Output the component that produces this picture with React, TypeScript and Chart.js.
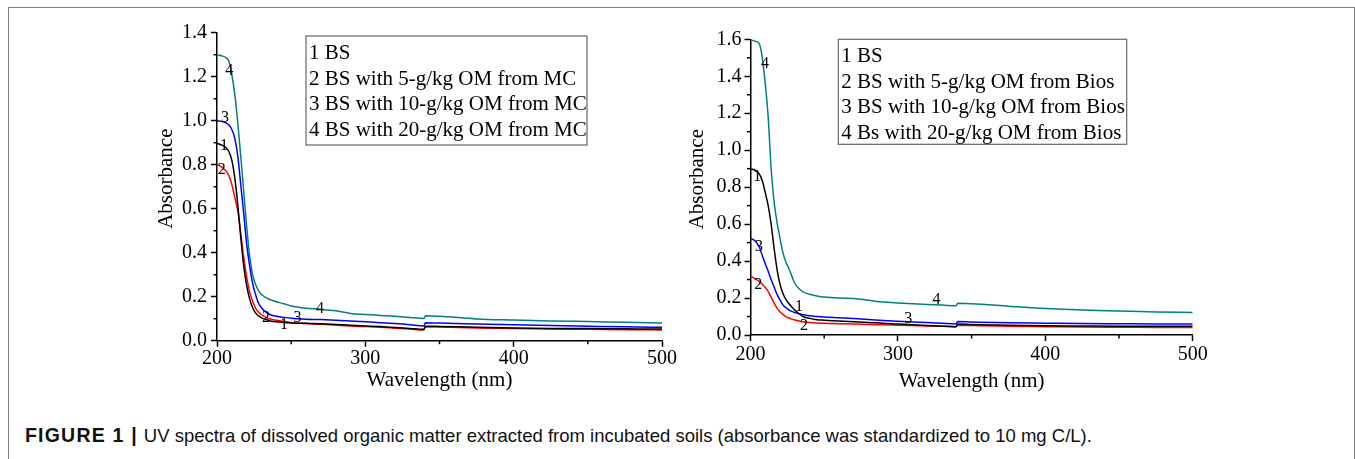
import React, { useEffect, useRef } from "react";
import { Chart, registerables } from "chart.js";

Chart.register(...registerables);

// ---------- data ----------
const wavelengths = [200, 203, 206, 208, 210, 212, 214, 216, 218, 220, 222, 224, 226, 228, 230, 233, 236, 240, 245, 250, 260, 270, 280, 290, 300, 310, 320, 330, 339.5, 340.5, 350, 375, 400, 425, 450, 475, 500];

// Left panel: OM from MC
const mcBS = [0.898, 0.89, 0.878, 0.86, 0.82, 0.74, 0.62, 0.47, 0.34, 0.25, 0.19, 0.15, 0.126, 0.113, 0.104, 0.096, 0.09, 0.086, 0.083, 0.081, 0.079, 0.077, 0.074, 0.07, 0.067, 0.064, 0.06, 0.056, 0.052, 0.066, 0.065, 0.061, 0.058, 0.056, 0.055, 0.054, 0.053];
const mcOM5 = [0.8, 0.79, 0.772, 0.75, 0.71, 0.65, 0.59, 0.49, 0.38, 0.29, 0.222, 0.18, 0.148, 0.13, 0.118, 0.106, 0.099, 0.093, 0.088, 0.083, 0.078, 0.075, 0.071, 0.067, 0.064, 0.061, 0.057, 0.053, 0.049, 0.063, 0.062, 0.058, 0.055, 0.053, 0.052, 0.05, 0.049];
const mcOM10 = [1.0, 0.997, 0.99, 0.98, 0.96, 0.92, 0.84, 0.71, 0.58, 0.44, 0.34, 0.26, 0.21, 0.17, 0.15, 0.13, 0.118, 0.111, 0.106, 0.102, 0.098, 0.096, 0.093, 0.09, 0.086, 0.082, 0.078, 0.073, 0.067, 0.082, 0.08, 0.076, 0.072, 0.069, 0.066, 0.063, 0.061];
const mcOM20 = [1.3, 1.295, 1.287, 1.27, 1.21, 1.12, 0.99, 0.84, 0.68, 0.52, 0.385, 0.3, 0.255, 0.228, 0.21, 0.196, 0.186, 0.177, 0.168, 0.158, 0.148, 0.143, 0.136, 0.124, 0.119, 0.115, 0.111, 0.106, 0.101, 0.113, 0.111, 0.099, 0.094, 0.09, 0.087, 0.084, 0.081];

// Right panel: OM from Bios
const biosBS = [0.897, 0.893, 0.87, 0.835, 0.77, 0.7, 0.6, 0.47, 0.355, 0.275, 0.225, 0.193, 0.17, 0.152, 0.135, 0.115, 0.099, 0.09, 0.083, 0.08, 0.076, 0.072, 0.068, 0.063, 0.06, 0.056, 0.052, 0.048, 0.045, 0.06, 0.057, 0.053, 0.05, 0.049, 0.048, 0.048, 0.047];
const biosOM5 = [0.319, 0.305, 0.29, 0.275, 0.258, 0.235, 0.205, 0.172, 0.145, 0.125, 0.112, 0.1, 0.092, 0.086, 0.081, 0.076, 0.072, 0.068, 0.065, 0.063, 0.061, 0.059, 0.057, 0.055, 0.053, 0.051, 0.049, 0.047, 0.045, 0.053, 0.051, 0.047, 0.045, 0.043, 0.042, 0.041, 0.04];
const biosOM10 = [0.523, 0.51, 0.475, 0.43, 0.385, 0.345, 0.3, 0.26, 0.22, 0.19, 0.163, 0.148, 0.136, 0.128, 0.122, 0.115, 0.109, 0.104, 0.1, 0.097, 0.093, 0.089, 0.084, 0.078, 0.074, 0.07, 0.067, 0.063, 0.06, 0.073, 0.07, 0.066, 0.064, 0.062, 0.061, 0.06, 0.06];
const biosOM20 = [1.598, 1.59, 1.575, 1.5, 1.36, 1.18, 0.9, 0.72, 0.61, 0.525, 0.445, 0.395, 0.36, 0.32, 0.28, 0.25, 0.232, 0.22, 0.211, 0.205, 0.2, 0.198, 0.188, 0.178, 0.173, 0.169, 0.165, 0.162, 0.158, 0.172, 0.169, 0.156, 0.143, 0.135, 0.13, 0.125, 0.122];

const seriesColors = ["#000000", "#ff0000", "#0000ff", "#008080"];

const mcLegend = ["1 BS", "2 BS with 5-g/kg OM from MC", "3 BS with 10-g/kg OM from MC", "4 BS with 20-g/kg OM from MC"];
const biosLegend = ["1 BS", "2 BS with 5-g/kg OM from Bios", "3 BS with 10-g/kg OM from Bios", "4 Bs with 20-g/kg OM from Bios"];

const mcCurveLabels = [
  { text: "4", x: 208.3, y: 1.227 },
  { text: "3", x: 205.4, y: 1.011 },
  { text: "1", x: 204.7, y: 0.885 },
  { text: "2", x: 203.2, y: 0.779 },
  { text: "2", x: 233.0, y: 0.106 },
  { text: "1", x: 245.2, y: 0.071 },
  { text: "3", x: 254.2, y: 0.102 },
  { text: "4", x: 269.5, y: 0.147 },
];
const biosCurveLabels = [
  { text: "4", x: 209.8, y: 1.469 },
  { text: "1", x: 204.6, y: 0.856 },
  { text: "3", x: 205.8, y: 0.477 },
  { text: "2", x: 205.3, y: 0.27 },
  { text: "1", x: 232.9, y: 0.15 },
  { text: "2", x: 236.3, y: 0.049 },
  { text: "3", x: 307.0, y: 0.09 },
  { text: "4", x: 326.2, y: 0.189 },
];

const xTitle = "Wavelength (nm)";
const yTitle = "Absorbance";
const captionLead = "FIGURE 1 |";
const caption = "UV spectra of dissolved organic matter extracted from incubated soils (absorbance was standardized to 10 mg C/L).";

const SERIF = '"Liberation Serif", "Times New Roman", serif';

type PanelCfg = {
  series: number[][];
  yMax: number;
  legend: string[];
  labels: { text: string; x: number; y: number }[];
  canvasLeft: number;
  yAxisWidth: number;
  padRight: number;
  padTop: number;
  xAxisHeight: number;
  yTickPad: number;
  xTickPad: number;
  legendBox: { dx: number; dy: number; w: number; h: number };
  xTitleOffset: number;
  yTitleOffset: number;
};

function makeDecor(cfg: PanelCfg) {
  return {
    id: "panelDecor",
    afterDraw(chart: any) {
      const { ctx, chartArea } = chart;
      const xs = chart.scales.x;
      const ys = chart.scales.y;
      ctx.save();
      // minor ticks
      ctx.strokeStyle = "#000";
      ctx.lineWidth = 1.5;
      const xt = xs.ticks.map((t: any) => t.value);
      for (let i = 0; i < xt.length - 1; i++) {
        const px = xs.getPixelForValue((xt[i] + xt[i + 1]) / 2);
        ctx.beginPath();
        ctx.moveTo(px, chartArea.bottom);
        ctx.lineTo(px, chartArea.bottom + 3.5);
        ctx.stroke();
      }
      const yt = ys.ticks.map((t: any) => t.value);
      for (let i = 0; i < yt.length - 1; i++) {
        const py = ys.getPixelForValue((yt[i] + yt[i + 1]) / 2);
        ctx.beginPath();
        ctx.moveTo(chartArea.left, py);
        ctx.lineTo(chartArea.left - 3.5, py);
        ctx.stroke();
      }
      // curve labels
      ctx.fillStyle = "#000";
      ctx.font = `16px ${SERIF}`;
      ctx.textAlign = "center";
      ctx.textBaseline = "middle";
      for (const l of cfg.labels) {
        ctx.fillText(l.text, xs.getPixelForValue(l.x), ys.getPixelForValue(l.y));
      }
      // axis titles
      ctx.font = `21px ${SERIF}`;
      ctx.fillText(xTitle, (chartArea.left + chartArea.right) / 2, chartArea.bottom + cfg.xTitleOffset);
      ctx.save();
      ctx.translate(chartArea.left - cfg.yTitleOffset, (chartArea.top + chartArea.bottom) / 2 - 8);
      ctx.rotate(-Math.PI / 2);
      ctx.fillText(yTitle, 0, 0);
      ctx.restore();
      // legend box
      const b = cfg.legendBox;
      const bx = chartArea.left + b.dx;
      const by = chartArea.top + b.dy;
      ctx.fillStyle = "#fff";
      ctx.fillRect(bx, by, b.w, b.h);
      ctx.strokeStyle = "#666";
      ctx.lineWidth = 1.2;
      ctx.strokeRect(bx, by, b.w, b.h);
      ctx.fillStyle = "#000";
      ctx.font = `21px ${SERIF}`;
      ctx.textAlign = "left";
      ctx.textBaseline = "middle";
      cfg.legend.forEach((t, i) => {
        ctx.fillText(t, bx + 3, by + 17.5 + i * 25.5);
      });
      ctx.restore();
    },
  };
}

function Panel({ cfg }: { cfg: PanelCfg }) {
  const ref = useRef<HTMLCanvasElement | null>(null);
  useEffect(() => {
    if (!ref.current) return;
    const chart = new Chart(ref.current, {
      type: "line",
      data: {
        datasets: cfg.series.map((s, i) => ({
          label: String(i + 1),
          data: wavelengths.map((w, j) => ({ x: w, y: s[j] })),
          borderColor: seriesColors[i],
          backgroundColor: seriesColors[i],
          borderWidth: 1.5,
          pointRadius: 0,
          cubicInterpolationMode: "monotone" as const,
          fill: false,
        })),
      },
      options: {
        responsive: false,
        animation: false,
        events: [],
        layout: { padding: { left: 0, right: cfg.padRight, top: cfg.padTop, bottom: 0 } },
        plugins: { legend: { display: false }, tooltip: { enabled: false }, title: { display: false } },
        scales: {
          x: {
            type: "linear",
            min: 200,
            max: 500,
            afterFit: (s: any) => {
              s.height = cfg.xAxisHeight;
            },
            ticks: {
              stepSize: 100,
              color: "#000",
              padding: cfg.xTickPad,
              font: { family: SERIF, size: 20 },
              maxRotation: 0,
            },
            grid: { drawOnChartArea: false, drawTicks: true, tickLength: 6, tickColor: "#000", tickWidth: 1.5 },
            border: { display: true, color: "#000", width: 1.5 },
          },
          y: {
            type: "linear",
            min: 0,
            max: cfg.yMax,
            afterFit: (s: any) => {
              s.width = cfg.yAxisWidth;
            },
            ticks: {
              stepSize: 0.2,
              color: "#000",
              padding: cfg.yTickPad,
              font: { family: SERIF, size: 20 },
              callback: (v: any) => Number(v).toFixed(1),
            },
            grid: { drawOnChartArea: false, drawTicks: true, tickLength: 6, tickColor: "#000", tickWidth: 1.5 },
            border: { display: true, color: "#000", width: 1.5 },
          },
        },
      },
      plugins: [makeDecor(cfg)],
    });
    return () => chart.destroy();
  }, [cfg]);
  return (
    <canvas
      ref={ref}
      width={600}
      height={410}
      style={{ position: "absolute", left: cfg.canvasLeft, top: 0, width: 600, height: 410 }}
    />
  );
}

const leftCfg: PanelCfg = {
  series: [mcBS, mcOM5, mcOM10, mcOM20],
  yMax: 1.4,
  legend: mcLegend,
  labels: mcCurveLabels,
  canvasLeft: 120,
  yAxisWidth: 97,
  padRight: 58,
  padTop: 32.7,
  xAxisHeight: 69.3,
  yTickPad: 4,
  xTickPad: 0,
  legendBox: { dx: 89, dy: 3.3, w: 281, h: 109 },
  xTitleOffset: 40,
  yTitleOffset: 50.3,
};

const rightCfg: PanelCfg = {
  series: [biosBS, biosOM5, biosOM10, biosOM20],
  yMax: 1.6,
  legend: biosLegend,
  labels: biosCurveLabels,
  canvasLeft: 660,
  yAxisWidth: 90.5,
  padRight: 67.3,
  padTop: 39.3,
  xAxisHeight: 75,
  yTickPad: 3,
  xTickPad: 1.5,
  legendBox: { dx: 87.8, dy: 0, w: 288.4, h: 105 },
  xTitleOffset: 46,
  yTitleOffset: 53,
};

export default function App() {
  useEffect(() => {
    document.body.style.margin = "0";
  }, []);
  return (
    <div style={{ position: "relative", width: 1355, height: 459, overflow: "hidden", background: "#fff" }}>
      <div
        style={{
          position: "absolute",
          left: 8,
          top: 7,
          width: 1347,
          height: 480,
          border: "1.5px solid #808080",
          boxSizing: "border-box",
        }}
      />
      <Panel cfg={leftCfg} />
      <Panel cfg={rightCfg} />
      <div
        style={{
          position: "absolute",
          left: 25,
          top: 424,
          fontFamily: '"Liberation Sans", Arial, sans-serif',
          fontSize: 18.5,
          lineHeight: "22px",
          whiteSpace: "nowrap",
          color: "#111",
        }}
      >
        <b style={{ fontSize: 19.5, letterSpacing: 1.2 }}>{captionLead}</b>
        <span style={{ marginLeft: 6 }}>{caption}</span>
      </div>
    </div>
  );
}
